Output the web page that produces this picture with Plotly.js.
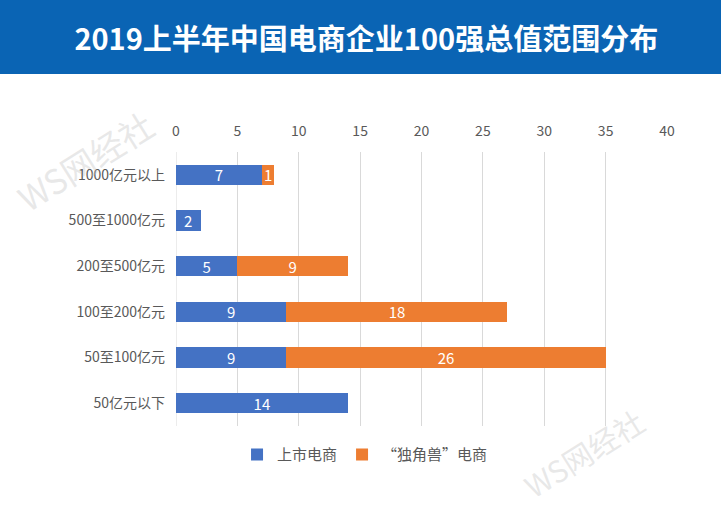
<!DOCTYPE html>
<html>
<head>
<meta charset="utf-8">
<script src="https://cdn.plot.ly/plotly-3.0.1.min.js"></script>
<style>
  body { margin: 0; background: #fff; }
  #chart { width: 721px; height: 506px; }
</style>
</head>
<body>
<div id="chart"></div>
<script>
// categories, top to bottom
var categories = ["1000亿元以上", "500至1000亿元", "200至500亿元", "100至200亿元", "50至100亿元", "50亿元以下"];
var listed = [7, 2, 5, 9, 9, 14];       // 上市电商
var unicorn = [1, 0, 9, 18, 26, 0];     // “独角兽”电商
var xTicks = [0, 5, 10, 15, 20, 25, 30, 35, 40];

var font = "Noto Sans CJK SC, Microsoft YaHei, sans-serif";

function labels(v) { // hide zero labels
  return v.map(function (d) { return d ? String(d) : ""; });
}

var traces = [
  {type: "bar", orientation: "h", name: "上市电商",
   y: categories, x: listed, text: labels(listed),
   textposition: "inside", insidetextanchor: "middle", textangle: 0,
   constraintext: "none",
   textfont: {color: "#fff", size: 15, family: font},
   marker: {color: "#4472c4"}, hoverinfo: "x+name"},
  {type: "bar", orientation: "h", name: "“独角兽”电商",
   y: categories, x: unicorn, text: labels(unicorn),
   textposition: "inside", insidetextanchor: "middle", textangle: 0,
   constraintext: "none",
   textfont: {color: "#fff", size: 15, family: font},
   marker: {color: "#ed7d31"}, hoverinfo: "x+name"}
];

var layout = {
  width: 721, height: 506,
  margin: {l: 176, r: 54, t: 152, b: 80},
  paper_bgcolor: "#fff", plot_bgcolor: "#fff",
  barmode: "stack", bargap: 0.56,
  font: {family: font, color: "#595959", size: 14},
  title: {text: "<b>2019上半年中国电商企业100强总值范围分布</b>",
          font: {family: font, size: 29, color: "#fff"},
          x: 0.508, xanchor: "center", y: 0.922, yanchor: "middle", yref: "container"},
  xaxis: {side: "top", range: [0, 40], tickvals: xTicks, showgrid: true,
          gridcolor: "#d9d9d9", zeroline: false, showline: false, ticks: "",
          ticklabelstandoff: 12,
          tickfont: {size: 14, color: "#595959"}, fixedrange: true},
  yaxis: {autorange: "reversed", showgrid: false, zeroline: false, showline: false,
          ticks: "", ticklen: 0, ticklabelstandoff: 10,
          tickfont: {size: 14, color: "#595959"}, fixedrange: true},
  showlegend: true,
  legend: {orientation: "h", x: 0.385, xanchor: "center", y: -0.105, yanchor: "middle",
           font: {size: 15, color: "#595959"}, traceorder: "normal"},
  shapes: [
    {type: "rect", xref: "paper", yref: "paper", x0: -0.37, x1: 1.12, y0: 1.285, y1: 1.6,
     fillcolor: "#0a64b4", line: {width: 0}, layer: "below"},
    {type: "line", xref: "x", yref: "paper", x0: 0, x1: 0, y0: 0, y1: 1,
     line: {color: "#d9d9d9", width: 1}, layer: "below"}
  ],
  annotations: [
    {xref: "paper", yref: "paper", x: -0.185, y: 0.97, xanchor: "center", yanchor: "middle",
     text: "WS网经社", showarrow: false, textangle: -32,
     font: {size: 34, color: "rgba(190,190,190,0.35)"}},
    {xref: "paper", yref: "paper", x: 0.83, y: -0.1, xanchor: "center", yanchor: "middle",
     text: "WS网经社", showarrow: false, textangle: -32,
     font: {size: 30, color: "rgba(190,190,190,0.35)"}}
  ]
};

Plotly.newPlot("chart", traces, layout, {displayModeBar: false, staticPlot: true});
</script>
</body>
</html>
